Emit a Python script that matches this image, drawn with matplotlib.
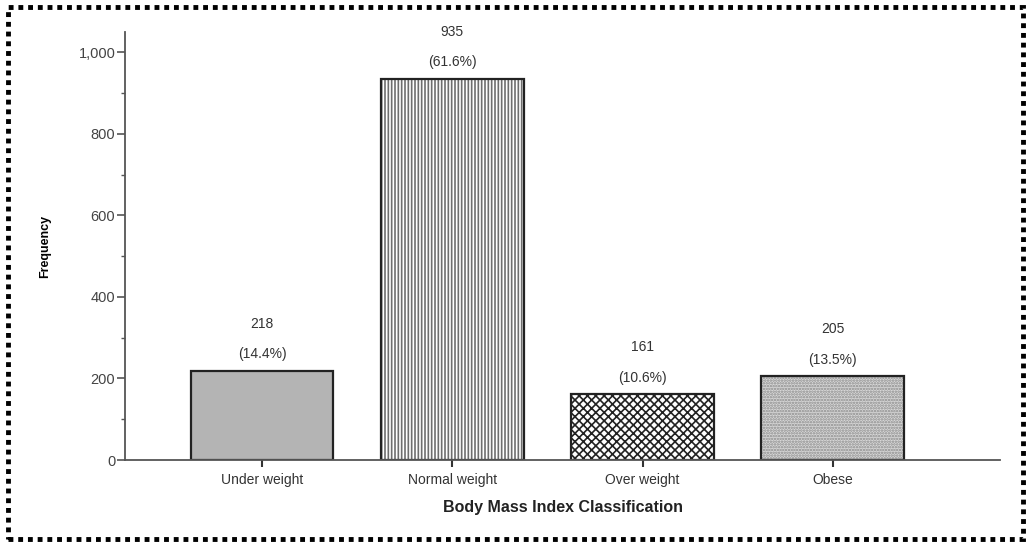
import numpy as np
import matplotlib
matplotlib.use("Agg")
import matplotlib.pyplot as plt
from matplotlib.patches import Rectangle
from matplotlib.ticker import MultipleLocator, FuncFormatter

# data
categories = ["Under weight", "Normal weight", "Over weight", "Obese"]
counts = [218, 935, 161, 205]
percents = [14.4, 61.6, 10.6, 13.5]
hatches = ["", "|||||", "xxxx", "......"]
facecolors = ["#b4b4b4", "#ffffff", "#ffffff", "#d8d8d8"]
hatchcolors = ["#b4b4b4", "#6e6e6e", "#222222", "#8a8a8a"]

plt.rcParams["font.family"] = ["Liberation Sans", "DejaVu Sans"]
plt.rcParams["hatch.linewidth"] = 1.2

fig = plt.figure(figsize=(10.29, 5.46), dpi=100)
ax = fig.add_axes([0.1215, 0.1575, 0.8505, 0.784])

x = np.arange(len(categories))
# fill + hatch layer (hatch takes the edge colour)
ax.bar(x, counts, width=0.75, color=facecolors, edgecolor=hatchcolors,
       linewidth=0, hatch=None)
for b, h, hc in zip(ax.patches, hatches, hatchcolors):
    b.set_hatch(h)
    b.set_edgecolor(hc)
# outline layer
ax.bar(x, counts, width=0.75, fill=False, edgecolor="#222222", linewidth=1.6)

# labels above bars
for xi, c, p in zip(x, counts, percents):
    ax.annotate(f"({p}%)", (xi, c), xytext=(0, 7), textcoords="offset points",
                ha="center", va="bottom", fontsize=10, color="#333333")
    ax.annotate(f"{c}", (xi, c), xytext=(0, 29), textcoords="offset points",
                ha="center", va="bottom", fontsize=10, color="#333333")

ax.set_xlim(-0.72, 3.88)
ax.set_ylim(0, 1050)
ax.yaxis.set_major_locator(MultipleLocator(200))
ax.yaxis.set_minor_locator(MultipleLocator(100))
ax.yaxis.set_major_formatter(FuncFormatter(lambda v, _: f"{int(v):,}"))
ax.set_xticks(x)
ax.set_xticklabels(categories)

for s in ["top", "right"]:
    ax.spines[s].set_visible(False)
for s in ["left", "bottom"]:
    ax.spines[s].set_color("#555555")
    ax.spines[s].set_linewidth(1.3)

ax.tick_params(axis="y", which="major", length=6, width=1.2, color="#555555",
               labelsize=10.5, labelcolor="#444444", pad=1)
ax.tick_params(axis="y", which="minor", length=3, width=1.0, color="#555555")
ax.tick_params(axis="x", length=5, width=1.5, color="#333333",
               labelsize=10, labelcolor="#333333", pad=4)

ax.set_ylabel("Frequency", fontsize=9, fontweight="bold", fontstretch="condensed",
              labelpad=20)
ax.set_xlabel("Body Mass Index Classification", fontsize=11.5, fontweight="bold",
              color="#222222", labelpad=10)

# dotted frame around the figure
frame = Rectangle((0.008, 0.012), 0.986, 0.975, transform=fig.transFigure,
                  fill=False, edgecolor="black", linewidth=3.5,
                  linestyle=(0, (1, 1)))
fig.patches.append(frame)

fig.savefig("out.png", dpi=100)
